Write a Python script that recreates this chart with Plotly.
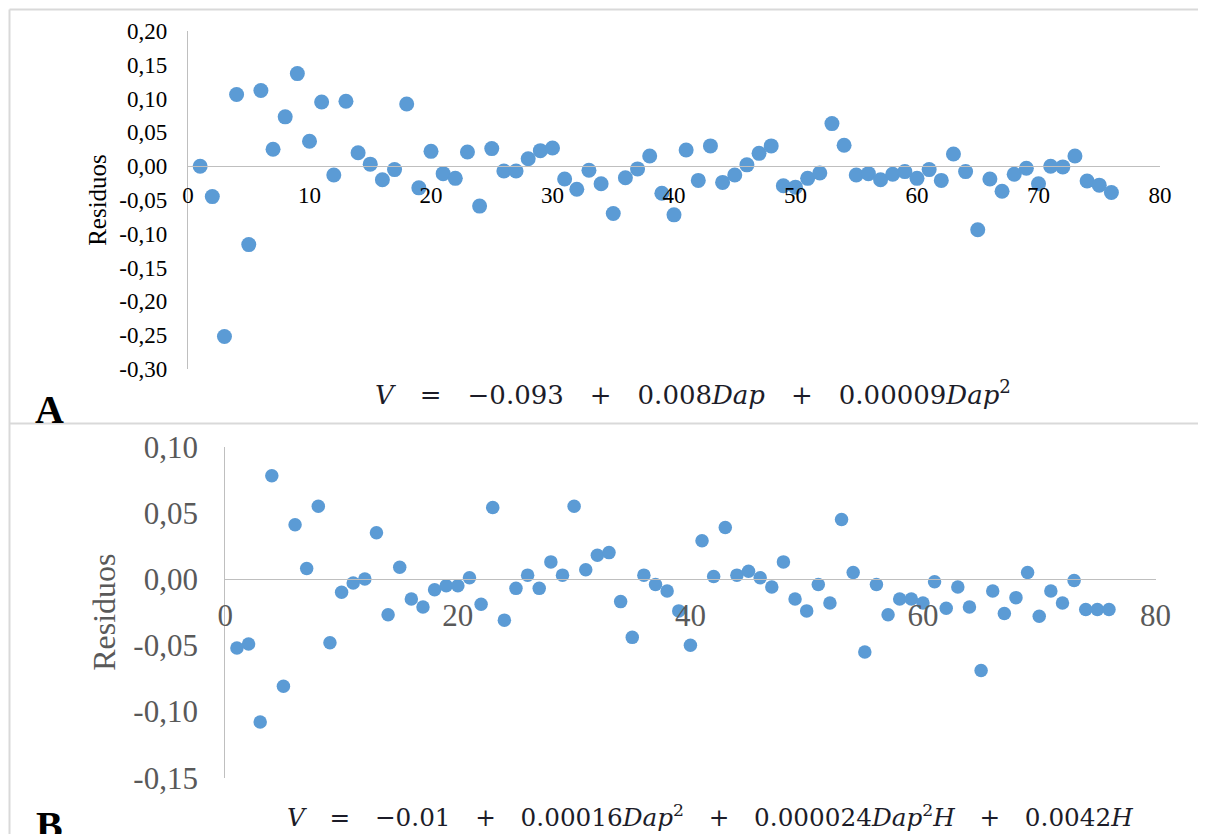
import plotly.graph_objects as go

# ---- data ----
obs = [1, 2, 3, 4, 5, 6, 7, 8, 9, 10, 11, 12, 13, 14, 15, 16, 17, 18, 19, 20,
       21, 22, 23, 24, 25, 26, 27, 28, 29, 30, 31, 32, 33, 34, 35, 36, 37, 38, 39, 40,
       41, 42, 43, 44, 45, 46, 47, 48, 49, 50, 51, 52, 53, 54, 55, 56, 57, 58, 59, 60,
       61, 62, 63, 64, 65, 66, 67, 68, 69, 70, 71, 72, 73, 74, 75, 76]

residuos_A = [0.000, -0.045, -0.252, 0.106, -0.116, 0.112, 0.025, 0.073, 0.137, 0.037,
              0.095, -0.013, 0.096, 0.020, 0.003, -0.020, -0.005, 0.092, -0.032, 0.022,
              -0.011, -0.018, 0.021, -0.059, 0.026, -0.007, -0.007, 0.011, 0.023, 0.027,
              -0.019, -0.034, -0.006, -0.026, -0.070, -0.017, -0.004, 0.015, -0.040, -0.072,
              0.024, -0.021, 0.030, -0.024, -0.013, 0.002, 0.019, 0.030, -0.029, -0.031,
              -0.018, -0.010, 0.063, 0.031, -0.013, -0.011, -0.020, -0.012, -0.008, -0.018,
              -0.005, -0.021, 0.018, -0.008, -0.094, -0.019, -0.037, -0.012, -0.003, -0.026,
              0.000, -0.001, 0.015, -0.022, -0.028, -0.039]

residuos_B = [-0.052, -0.049, -0.108, 0.078, -0.081, 0.041, 0.008, 0.055, -0.048, -0.010,
              -0.003, 0.000, 0.035, -0.027, 0.009, -0.015, -0.021, -0.008, -0.005, -0.005,
              0.001, -0.019, 0.054, -0.031, -0.007, 0.003, -0.007, 0.013, 0.003, 0.055,
              0.007, 0.018, 0.020, -0.017, -0.044, 0.003, -0.004, -0.009, -0.024, -0.050,
              0.029, 0.002, 0.039, 0.003, 0.006, 0.001, -0.006, 0.013, -0.015, -0.024,
              -0.004, -0.018, 0.045, 0.005, -0.055, -0.004, -0.027, -0.015, -0.015, -0.018,
              -0.002, -0.022, -0.006, -0.021, -0.069, -0.009, -0.026, -0.014, 0.005, -0.028,
              -0.009, -0.018, -0.001, -0.023, -0.023, -0.023]

x_ticks_A = [0, 10, 20, 30, 40, 50, 60, 70, 80]
x_labels_A = ["0", "10", "20", "30", "40", "50", "60", "70", "80"]
y_ticks_A = [0.20, 0.15, 0.10, 0.05, 0.00, -0.05, -0.10, -0.15, -0.20, -0.25, -0.30]
y_labels_A = ["0,20", "0,15", "0,10", "0,05", "0,00", "-0,05", "-0,10", "-0,15",
              "-0,20", "-0,25", "-0,30"]

x_ticks_B = [0, 20, 40, 60, 80]
x_labels_B = ["0", "20", "40", "60", "80"]
y_ticks_B = [0.10, 0.05, 0.00, -0.05, -0.10, -0.15]
y_labels_B = ["0,10", "0,05", "0,00", "-0,05", "-0,10", "-0,15"]

SP = "\u2003"  # wide math-style spacing around operators
eq_A = (f"<i>V</i>{SP}={SP}−0.093{SP}+{SP}0.008<i>Dap</i>{SP}+{SP}"
        f"0.00009<i>Dap</i><sup>2</sup>")
eq_B = (f"<i>V</i>{SP}={SP}−0.01{SP}+{SP}0.00016<i>Dap</i><sup>2</sup>{SP}+{SP}"
        f"0.000024<i>Dap</i><sup>2</sup><i>H</i>{SP}+{SP}0.0042<i>H</i>")

# ---- layout geometry (screen px -> paper fractions; page body adds an 8px offset) ----
W, H = 1206, 834
OFF = 8


def px_x(p):
    return (p - OFF) / W


def px_y(p):
    return 1 - (p - OFF) / H


BLUE = "#5B9BD5"
SERIF = "Liberation Serif, Times New Roman, serif"
MATH = "DejaVu Serif, serif"
AXIS_GRAY = "#bfbfbf"
EQ_COLOR = "#1c1c28"

fig = go.Figure()
fig.add_trace(go.Scatter(x=obs, y=residuos_A, mode="markers", xaxis="x", yaxis="y",
                         marker=dict(size=15, color=BLUE), showlegend=False))
fig.add_trace(go.Scatter(x=obs, y=residuos_B, mode="markers", xaxis="x2", yaxis="y2",
                         marker=dict(size=13.5, color=BLUE), showlegend=False))

fig.update_layout(
    width=W, height=H,
    margin=dict(l=0, r=0, t=0, b=0, autoexpand=False),
    paper_bgcolor="white", plot_bgcolor="white",
    xaxis=dict(domain=[px_x(188), px_x(1160)], range=[0, 80], anchor="free",
               position=px_y(166), showline=True, linecolor=AXIS_GRAY, linewidth=1.3,
               showgrid=False, zeroline=False, tickvals=x_ticks_A, ticktext=x_labels_A,
               ticks="outside", ticklen=8, tickcolor="rgba(0,0,0,0)", automargin=False,
               tickfont=dict(family=SERIF, size=23, color="black")),
    yaxis=dict(domain=[px_y(369), px_y(31)], range=[-0.30, 0.20], anchor="x",
               showline=True, linecolor=AXIS_GRAY, linewidth=1.3, automargin=False,
               showgrid=False, zeroline=False, tickvals=y_ticks_A, ticktext=y_labels_A,
               ticks="outside", ticklen=15, tickcolor="rgba(0,0,0,0)",
               tickfont=dict(family=SERIF, size=23, color="black"),
               title=dict(text="Residuos", font=dict(family=SERIF, size=25, color="black"),
                          standoff=5)),
    xaxis2=dict(domain=[px_x(225.3), px_x(1155.5)], range=[0, 80], anchor="free",
                position=px_y(578.7), showline=True, linecolor=AXIS_GRAY, linewidth=1.3,
                showgrid=False, zeroline=False, tickvals=x_ticks_B, ticktext=x_labels_B,
                ticks="outside", ticklen=9, tickcolor="rgba(0,0,0,0)", automargin=False,
                tickfont=dict(family=SERIF, size=31, color="#595959")),
    yaxis2=dict(domain=[px_y(777.7), px_y(446.7)], range=[-0.15, 0.10], anchor="x2",
                showline=True, linecolor=AXIS_GRAY, linewidth=1.3, automargin=False,
                showgrid=False, zeroline=False, tickvals=y_ticks_B, ticktext=y_labels_B,
                ticks="outside", ticklen=20, tickcolor="rgba(0,0,0,0)",
                tickfont=dict(family=SERIF, size=31, color="#595959"),
                title=dict(text="Residuos", font=dict(family=SERIF, size=32, color="#595959"),
                           standoff=8)),
)

# frame lines
frame = "#d9d9d9"
fig.add_shape(type="line", xref="paper", yref="paper", x0=px_x(9.5), x1=1, y0=px_y(9.5),
              y1=px_y(9.5), line=dict(color=frame, width=2))
fig.add_shape(type="line", xref="paper", yref="paper", x0=px_x(9.5), x1=px_x(9.5), y0=0,
              y1=px_y(9.5), line=dict(color=frame, width=2))
fig.add_shape(type="line", xref="paper", yref="paper", x0=px_x(9.5), x1=1, y0=px_y(423.5),
              y1=px_y(423.5), line=dict(color=frame, width=2))

# equations
fig.add_annotation(xref="paper", yref="paper", x=px_x(693), y=px_y(393), text=eq_A,
                   showarrow=False, xanchor="center", yanchor="middle",
                   font=dict(family=MATH, size=26, color=EQ_COLOR))
fig.add_annotation(xref="paper", yref="paper", x=px_x(710), y=px_y(816), text=eq_B,
                   showarrow=False, xanchor="center", yanchor="middle",
                   font=dict(family=MATH, size=24.7, color=EQ_COLOR))

# panel letters
fig.add_annotation(xref="paper", yref="paper", x=px_x(49), y=px_y(409), text="<b>A</b>",
                   showarrow=False, xanchor="center", yanchor="middle",
                   font=dict(family=SERIF, size=40, color="black"))
fig.add_annotation(xref="paper", yref="paper", x=px_x(49), y=px_y(825), text="<b>B</b>",
                   showarrow=False, xanchor="center", yanchor="middle",
                   font=dict(family=SERIF, size=40, color="black"))

fig.write_html("out.html")
